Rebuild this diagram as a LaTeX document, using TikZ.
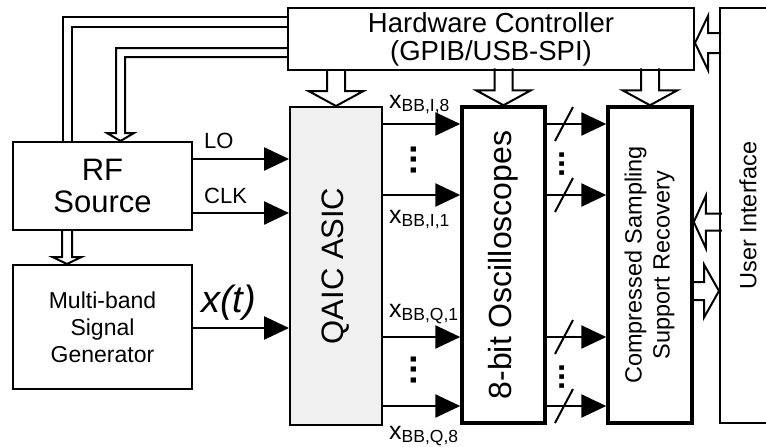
\documentclass[tikz,border=0pt]{standalone}
\usepackage{fontspec}
\setmainfont{Liberation Sans}
\usepackage{graphicx}
\usetikzlibrary{arrows.meta,calc}
\definecolor{asicgray}{RGB}{240,240,240}
\newcommand\fsz[2]{\fontsize{#1}{#2}\selectfont}
\newcommand\blockarrow[6]{%
  \draw[blk, shift={#1}, rotate=#2] (-#3,-#4) -- (-#6,-#4) -- (-#6,-#5) -- (0,0) -- (-#6,#5) -- (-#6,#4) -- (-#3,#4);}
\newcommand\xbb[1]{\fsz{25}{25}x\raisebox{-3.3pt}{\fsz{17.5}{18}#1}}
\begin{document}
\begin{tikzpicture}[x=1pt, y=-1pt,
  box/.style={draw, line width=2pt, fill=white, inner sep=0pt, align=center},
  heavybox/.style={box, line width=3.5pt},
  sig/.style={line width=2.6pt, -{Triangle[length=25pt,width=23pt]}},
  blk/.style={line width=2pt, line join=miter, miter limit=10},
  pipe/.style={line width=2pt, line join=miter},
  lbl/.style={inner sep=0pt, anchor=base west},
  dotsv/.style={inner sep=0pt, rotate=90, font=\fsz{36}{36}\bfseries},
  slashmark/.style={line width=2pt}]
\useasboundingbox (0,0) rectangle (766,447);

% boxes
\node[box, minimum width=406, minimum height=62, font=\fsz{27.5}{28}] (hc) at (491,39) {Hardware Controller\\(GPIB/USB-SPI)};
\node[box, minimum width=56, minimum height=415, font=\fsz{23.5}{28}] (ui) at (748,215.5) {\rotatebox{90}{User Interface}};
\node[box, minimum width=179, minimum height=88, font=\fsz{31}{32}] (rf) at (102.5,186) {RF\\Source};
\node[box, minimum width=179, minimum height=124, font=\fsz{23}{27}] (mb) at (102.5,327) {Multi-band\\Signal\\Generator};
\node[box, fill=asicgray, minimum width=92, minimum height=318, font=\fsz{31}{32}] (qaic) at (336,266) {\rotatebox{90}{QAIC ASIC}};
\node[heavybox, minimum width=83, minimum height=316, font=\fsz{32}{32}] (osc) at (503.5,265) {\rotatebox{90}{8-bit Oscilloscopes}};
\node[heavybox, minimum width=84, minimum height=316, font=\fsz{23.5}{28}] (cs) at (650,265) {\rotatebox{90}{\begin{tabular}{@{}c@{}}Compressed Sampling\\Support Recovery\end{tabular}}};

% signal arrows
\draw[sig] (rf.east |- 0,159) -- (qaic.west |- 0,159);
\draw[sig] (rf.east |- 0,213) -- (qaic.west |- 0,213);
\draw[sig] (mb.east |- 0,328) -- (qaic.west |- 0,328);
\foreach \yy in {124,195,337,406} {
  \draw[sig] (qaic.east |- 0,\yy) -- (osc.west |- 0,\yy);
  \draw[sig] (osc.east |- 0,\yy) -- (cs.west |- 0,\yy);
  \coordinate (sl) at (564,\yy);
  \draw[slashmark] ($(sl)+(-9,17)$) -- ($(sl)+(9,-17)$);
}

% labels
\node[lbl, font=\fsz{22}{22}] (lo) at (204,148) {LO};
\node[lbl, font=\fsz{22}{22}] (clk) at (204,203) {CLK};
\node[lbl, font=\fsz{38}{38}\itshape] (xt) at (201,312) {x(t)};
\node[lbl] (xi8) at (389,108) {\xbb{BB,I,8}};
\node[lbl] (xi1) at (389,223) {\xbb{BB,I,1}};
\node[lbl] (xq1) at (389,317) {\xbb{BB,Q,1}};
\node[lbl] (xq8) at (389,439) {\xbb{BB,Q,8}};

% dots
\node[dotsv] (d1) at (414,160) {...};
\node[dotsv] (d2) at (414,370) {...};
\node[dotsv, font=\fsz{32}{32}\bfseries] (d3) at (562,164) {...};
\node[dotsv, font=\fsz{32}{32}\bfseries] (d4) at (562,377) {...};

% block arrows
\blockarrow{(qaic.north)}{-90}{37}{9}{27.5}{15}
\blockarrow{(osc.north)}{-90}{37}{9}{27.5}{15}
\blockarrow{(cs.north)}{-90}{37}{9}{27.5}{15}
\blockarrow{(hc.east |- 0,43)}{180}{26}{10}{27}{13}
\blockarrow{(cs.east |- 0,222)}{180}{28}{8.5}{26}{12}
\blockarrow{(ui.west |- 0,291)}{0}{28}{9}{26.5}{15}
\blockarrow{(mb.north -| 67,0)}{-90}{35}{5}{14.5}{7}

% control pipes
\draw[pipe] (hc.west |- 0,17) -- (63,17) -- (rf.north -| 63,0);
\draw[pipe] (hc.west |- 0,27) -- (72,27) -- (rf.north -| 72,0);
\draw[pipe] (hc.west |- 0,48) -- (116,48) -- (116,133) -- (107,133) -- (rf.north -| 120.5,0) -- (134,133) -- (125,133) -- (125,57) -- (hc.west |- 0,57);
\end{tikzpicture}
\end{document}
